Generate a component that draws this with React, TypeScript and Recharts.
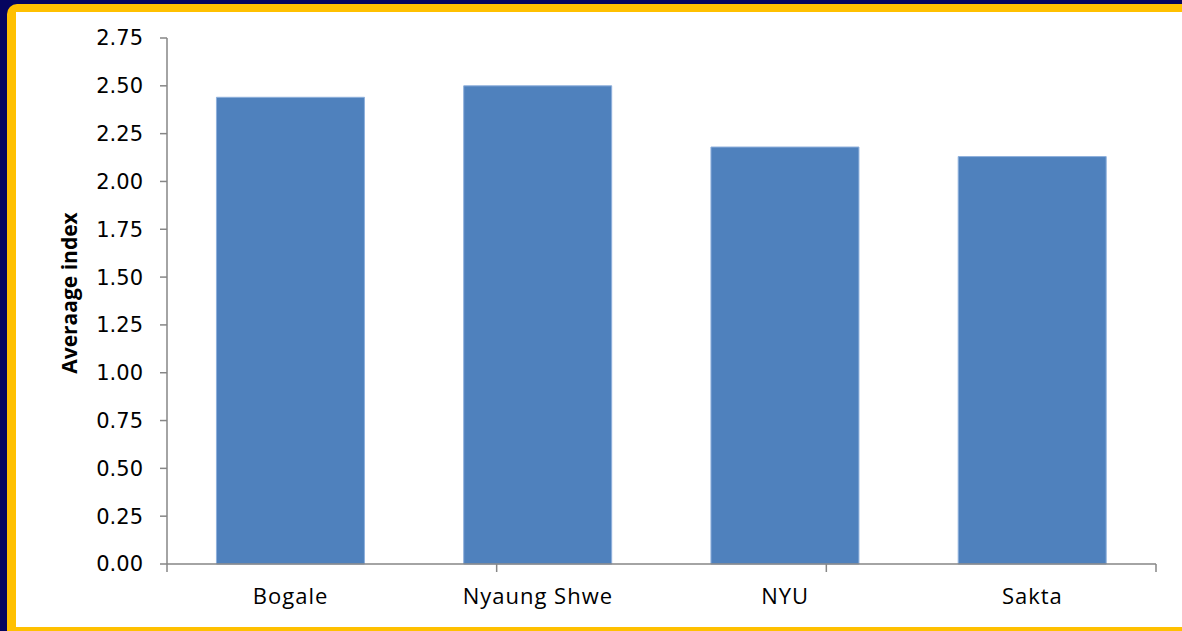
import { BarChart, Bar, XAxis, YAxis } from "recharts"

// Sites along the x-axis and their average index
const SITES = ["Bogale", "Nyaung Shwe", "NYU", "Sakta"]
const AVERAGE_INDEX = [2.44, 2.5, 2.18, 2.13]

// Value axis ticks and the category boundaries where x tick marks sit
const Y_TICKS = [0, 0.25, 0.5, 0.75, 1, 1.25, 1.5, 1.75, 2, 2.25, 2.5, 2.75]
const SITE_EDGES = [0, 1, 2, 3, 4]

const AXIS_GREY = "#868686"
const BAR_FILL = "#4F81BD"

const data = SITES.map((site, i) => ({ site, value: AVERAGE_INDEX[i] }))

const YTitle = (props: any) => {
  const vb = props.viewBox || { x: 0, y: 0, width: 0, height: 0 }
  const x = vb.x + 61
  const y = 281
  return (
    <text
      x={x}
      y={y}
      transform={`rotate(-90 ${x} ${y})`}
      textAnchor="middle"
      fontFamily="'Open Sans', sans-serif"
      fontWeight={700}
      fontSize={21}
      fill="#000"
    >
      Averaage index
    </text>
  )
}

export default function App() {
  return (
    <div
      style={{
        position: "fixed",
        left: 0,
        top: 0,
        width: 1182,
        height: 631,
        background: "#05055f",
        overflow: "hidden",
      }}
    >
      <div
        style={{
          position: "absolute",
          left: 7,
          top: 4,
          width: 1200,
          height: 650,
          background: "#FFC000",
          borderTopLeftRadius: 10,
        }}
      />
      <div
        style={{
          position: "absolute",
          left: 16,
          top: 12,
          width: 1166,
          height: 615,
          background: "#fff",
        }}
      >
        <BarChart
          width={1166}
          height={615}
          data={data}
          margin={{ top: 26, right: 26, left: 0, bottom: 0 }}
          barCategoryGap="20%"
        >
          {/* boundary ticks between sites, drawn on a plain 0..4 scale */}
          <XAxis
            xAxisId="edges"
            type="number"
            domain={[0, 4]}
            ticks={SITE_EDGES}
            allowDataOverflow
            height={1}
            tickSize={8}
            axisLine={{ stroke: AXIS_GREY, strokeWidth: 1.5 }}
            tickLine={{ stroke: AXIS_GREY, strokeWidth: 1.5 }}
            tickFormatter={() => ""}
          />
          <XAxis
            xAxisId="site"
            dataKey="site"
            height={62}
            axisLine={false}
            tickLine={false}
            tickSize={0}
            tickMargin={23}
            interval={0}
            tick={{
              fill: "#000",
              fontSize: 22,
              fontFamily: "'Open Sans', sans-serif",
              letterSpacing: 1,
            }}
          />
          <YAxis
            width={151}
            domain={[0, 2.75]}
            ticks={Y_TICKS}
            interval={0}
            tickFormatter={(v: number) => v.toFixed(2)}
            tickSize={7}
            tickMargin={17}
            axisLine={{ stroke: AXIS_GREY, strokeWidth: 1.5 }}
            tickLine={{ stroke: AXIS_GREY, strokeWidth: 1.5 }}
            tick={{ fill: "#000", fontSize: 21, fontFamily: "'DejaVu Sans', sans-serif" }}
            label={YTitle}
          />
          <Bar
            xAxisId="site"
            dataKey="value"
            fill={BAR_FILL}
            stroke="#8fb0dc"
            strokeWidth={1}
            isAnimationActive={false}
          />
        </BarChart>
      </div>
    </div>
  )
}
